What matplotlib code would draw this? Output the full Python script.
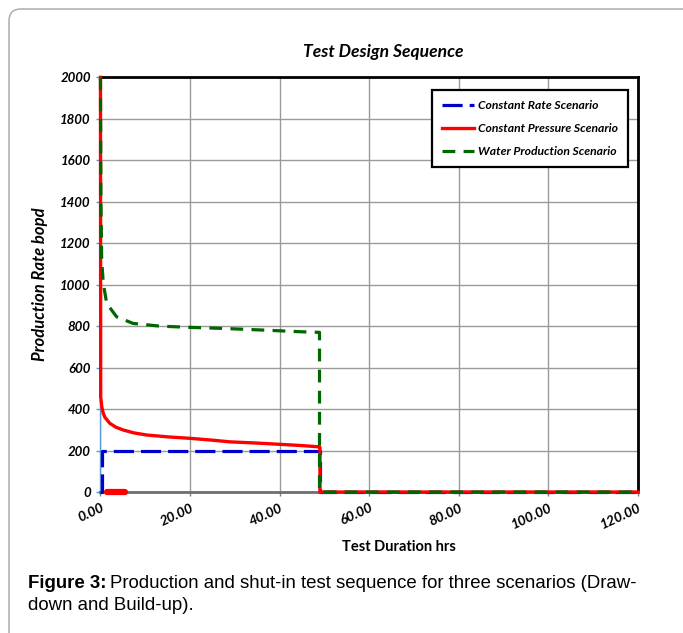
import matplotlib
matplotlib.use('Agg')
import matplotlib.pyplot as plt
from matplotlib.patches import FancyBboxPatch
from matplotlib.transforms import IdentityTransform
from matplotlib.ticker import MultipleLocator, FormatStrFormatter

# constant rate scenario (hrs, bopd)
rate_t = [0.0, 0.25, 0.25, 49.0, 49.0, 120.0]
rate_q = [0, 0, 200, 200, 0, 0]

# constant pressure scenario
pres_t = [0.0, 0.05, 0.3, 0.63, 1.0, 2.1, 3.5, 5.1, 7.5, 10.3, 15.0, 20.0,
          25.0, 28.9, 35.0, 40.1, 45.0, 48.7, 49.0, 49.0, 120.0]
pres_q = [2000, 459, 410, 379, 360, 331, 312, 299, 285, 275, 266, 259,
          250, 242, 236, 230, 224, 218, 215, 0, 0]
blip_t = [1.5, 5.4]
blip_q = [0, 0]

# water production scenario
water_t = [0.0, 0.1, 0.27, 0.63, 1.4, 3.6, 7.3, 13.3, 20.0, 27.4, 36.4,
           44.6, 48.9, 48.9, 120.0]
water_q = [2000, 1400, 1118, 1006, 909, 845, 813, 800, 794, 789, 781,
           773, 770, 0, 0]

labels = ['Constant Rate Scenario', 'Constant Pressure Scenario',
          'Water Production Scenario']

lato = ['Lato', 'DejaVu Sans']

fig = plt.figure(figsize=(6.83, 6.33), dpi=100)

# outer frame with a rounded corner
frame = FancyBboxPatch((9, -30), 720, 654, boxstyle='round,pad=0,rounding_size=12',
                       transform=IdentityTransform(), fc='none', ec='#b3b3b3',
                       lw=1.2, figure=fig)
fig.patches.append(frame)

ax = fig.add_axes([0.1471, 0.2227, 0.787, 0.6552])

ax.plot(rate_t, rate_q, color='#0000cc', lw=2.3, dashes=(6.3, 2.2),
        label=labels[0], zorder=3, clip_on=False)
ax.plot(pres_t, pres_q, color='#ff0000', lw=2.4, solid_joinstyle='round',
        label=labels[1], zorder=4, clip_on=False)
ax.plot(blip_t, blip_q, color='#ff0000', lw=4.5, solid_capstyle='round',
        zorder=4, clip_on=False)
ax.plot(water_t, water_q, color='#006600', lw=2.3, dashes=(4.0, 2.6),
        label=labels[2], zorder=5, clip_on=False)

ax.set_xlim(0, 120)
ax.set_ylim(0, 2000)
ax.xaxis.set_major_locator(MultipleLocator(20))
ax.yaxis.set_major_locator(MultipleLocator(200))
ax.xaxis.set_major_formatter(FormatStrFormatter('%.2f'))
ax.grid(True, color='#9a9a9a', lw=1.0)
ax.set_axisbelow(True)

for s in ('top', 'right'):
    ax.spines[s].set_color('black')
    ax.spines[s].set_linewidth(2)
ax.spines['left'].set_color('#5b9bd5')
ax.spines['left'].set_linewidth(1)
ax.spines['bottom'].set_color('#6e6e6e')
ax.spines['bottom'].set_linewidth(2)

ax.tick_params(axis='y', colors='#5b9bd5', length=3, width=1, pad=4)
ax.tick_params(axis='x', colors='#808080', length=3, width=1, pad=4)
for lab in ax.get_yticklabels():
    lab.set_color('black')
    lab.set_family(lato)
    lab.set_fontsize(9.5)
    lab.set_fontweight('bold')
    lab.set_fontstyle('italic')
for lab in ax.get_xticklabels():
    lab.set_color('black')
    lab.set_family(lato)
    lab.set_fontsize(10)
    lab.set_fontweight('bold')
    lab.set_fontstyle('italic')
    lab.set_rotation(25)
    lab.set_ha('right')
    lab.set_va('top')
    lab.set_rotation_mode('anchor')

ax.set_ylabel('Production Rate bopd', family=lato, fontsize=12, fontweight='bold',
              fontstyle='italic', labelpad=9)
ax.set_xlabel('Test Duration hrs', family=lato, fontsize=10.5, fontweight='bold',
              labelpad=6)
ax.xaxis.set_label_coords((399 - 100.5) / 537.5, -0.115)

fig.text(383 / 683, 1 - 52 / 633, 'Test Design Sequence', family=lato, fontsize=12.6,
         fontweight='bold', fontstyle='italic', ha='center', va='center')

leg = ax.legend(loc='upper right', bbox_to_anchor=(0.981, 0.969), borderaxespad=0,
                frameon=True, fancybox=False, edgecolor='black', handlelength=2.7,
                handletextpad=0.3, labelspacing=1.0, borderpad=0.8,
                prop={'family': lato, 'size': 8.7, 'weight': 'bold',
                      'style': 'italic'})
leg.get_frame().set_linewidth(1.6)
leg.get_frame().set_alpha(1)

cap1 = fig.text(28 / 683, 1 - 583 / 633, 'Figure 3:', family='Liberation Sans',
                fontsize=13.4, fontweight='bold', va='center')
fig.canvas.draw()
bb = cap1.get_window_extent()
fig.text((bb.x1 + 4) / 683, 1 - 583 / 633,
         'Production and shut-in test sequence for three scenarios (Draw-',
         family='Liberation Sans', fontsize=13.4, va='center')
fig.text(28 / 683, 1 - 605 / 633, 'down and Build-up).', family='Liberation Sans',
         fontsize=13.4, va='center')

fig.savefig('out.png', dpi=100)
